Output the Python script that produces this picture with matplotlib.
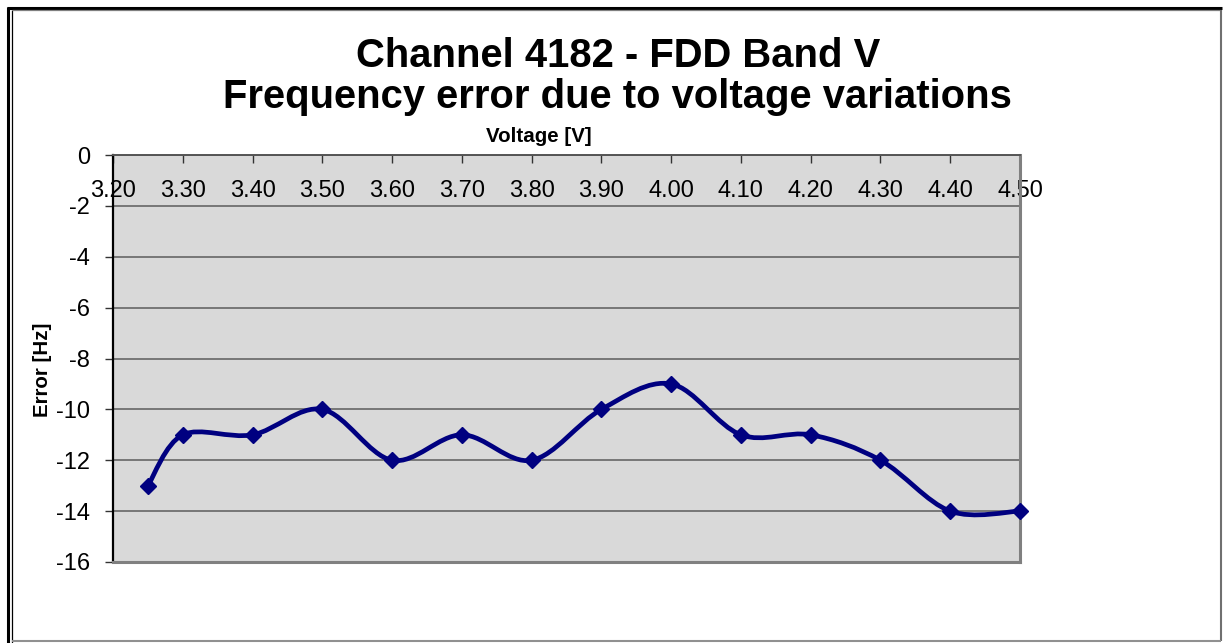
import matplotlib
matplotlib.use("Agg")
import matplotlib.pyplot as plt
import numpy as np
from matplotlib.path import Path
from matplotlib.patches import PathPatch
from matplotlib.lines import Line2D

# ---- data ----
voltage = [3.25, 3.30, 3.40, 3.50, 3.60, 3.70, 3.80, 3.90, 4.00, 4.10, 4.20, 4.30, 4.40, 4.50]
error_hz = [-13, -11, -11, -10, -12, -11, -12, -10, -9, -11, -11, -12, -14, -14]
x_ticks = [3.20, 3.30, 3.40, 3.50, 3.60, 3.70, 3.80, 3.90, 4.00, 4.10, 4.20, 4.30, 4.40, 4.50]
x_tick_labels = ["3.20", "3.30", "3.40", "3.50", "3.60", "3.70", "3.80", "3.90",
                 "4.00", "4.10", "4.20", "4.30", "4.40", "4.50"]
y_ticks = [0, -2, -4, -6, -8, -10, -12, -14, -16]
title_line1 = "Channel 4182 - FDD Band V"
title_line2 = "Frequency error due to voltage variations"
x_label = "Voltage [V]"
y_label = "Error [Hz]"

plt.rcParams['font.family'] = ['Liberation Sans', 'DejaVu Sans']
plt.rcParams['axes.unicode_minus'] = False

W, H = 1223, 643
fig = plt.figure(figsize=(W / 100, H / 100), dpi=100)
fig.patch.set_facecolor('white')

def fx(px):
    return px / W

def fy(py):
    return 1 - py / H

# plot area
L, R, T, B = 113, 1020, 155, 562
ax = fig.add_axes([fx(L), fy(B), fx(R) - fx(L), fy(T) - fy(B)])
ax.set_facecolor('#D9D9D9')
ax.set_xlim(3.20, 4.50)
ax.set_ylim(-16, 0)

# smoothed line (Excel-like Catmull-Rom bezier through the points)
pts = np.column_stack([voltage, error_hz]).astype(float)
n = len(pts)
verts = [pts[0]]
codes = [Path.MOVETO]
for i in range(n - 1):
    p_prev = pts[i - 1] if i > 0 else pts[i]
    p0 = pts[i]
    p1 = pts[i + 1]
    p_next = pts[i + 2] if i + 2 < n else pts[i + 1]
    c1 = p0 + (p1 - p_prev) / 6.0
    c2 = p1 - (p_next - p0) / 6.0
    verts += [c1, c2, p1]
    codes += [Path.CURVE4, Path.CURVE4, Path.CURVE4]
curve = PathPatch(Path(verts, codes), facecolor='none', edgecolor='#000080',
                  linewidth=3.4, capstyle='round', joinstyle='round', zorder=3,
                  clip_on=False)
ax.add_patch(curve)
ax.plot(voltage, error_hz, linestyle='none', marker='D', markersize=8.5,
        color='#000080', markeredgecolor='#000080', zorder=4, clip_on=False)

# grid
ax.set_yticks(y_ticks)
ax.yaxis.grid(True, color='#666666', linewidth=1.2)
ax.set_axisbelow(True)

# x axis at top, labels inside the plot
ax.set_xticks(x_ticks)
ax.set_xticklabels(x_tick_labels)
ax.xaxis.set_ticks_position('top')
ax.tick_params(axis='x', direction='in', length=6, width=1, color='#333333',
               labelsize=17, pad=-33.5, labeltop=True, labelbottom=False)
ax.tick_params(axis='y', direction='out', length=5.5, width=1, color='#333333',
               labelsize=17, pad=11)

for side, col, lw in [('left', '#000000', 1.6), ('top', '#555555', 1.4),
                      ('right', '#808080', 2.2), ('bottom', '#808080', 2.2)]:
    ax.spines[side].set_color(col)
    ax.spines[side].set_linewidth(lw)

# axis labels
ax.xaxis.set_label_position('top')
ax.set_xlabel(x_label, fontsize=14.8, fontweight='bold')
ax.xaxis.set_label_coords((539 - L) / (R - L), (B - 137) / (B - T))
ax.xaxis.label.set_va('center')
ax.set_ylabel(y_label, fontsize=14.8, fontweight='bold')
ax.yaxis.set_label_coords((42 - L) / (R - L), (B - 370) / (B - T))
ax.yaxis.label.set_va('center')

# titles
fig.text(fx(618), fy(67), title_line1, ha='center', va='baseline',
         fontsize=28.8, fontweight='bold')
fig.text(fx(617), fy(108), title_line2, ha='center', va='baseline',
         fontsize=28.8, fontweight='bold')

# chart frame
def hline(y, x0, x1, color, lw):
    fig.add_artist(Line2D([fx(x0), fx(x1)], [fy(y), fy(y)], transform=fig.transFigure,
                          color=color, linewidth=lw, solid_capstyle='butt'))

def vline(x, y0, y1, color, lw):
    fig.add_artist(Line2D([fx(x), fx(x)], [fy(y0), fy(y1)], transform=fig.transFigure,
                          color=color, linewidth=lw, solid_capstyle='butt'))

vline(8, 6.5, 643, '#000000', 2.2)
hline(8, 6.5, 1222, '#000000', 2.2)
vline(12, 9.5, 643, '#000000', 0.9)
hline(10, 12, 1221, '#808080', 0.9)
vline(1220.5, 9.5, 641, '#707070', 1.5)
hline(640.5, 12, 1221, '#909090', 1.5)

fig.savefig('out.png', dpi=100, facecolor='white')
